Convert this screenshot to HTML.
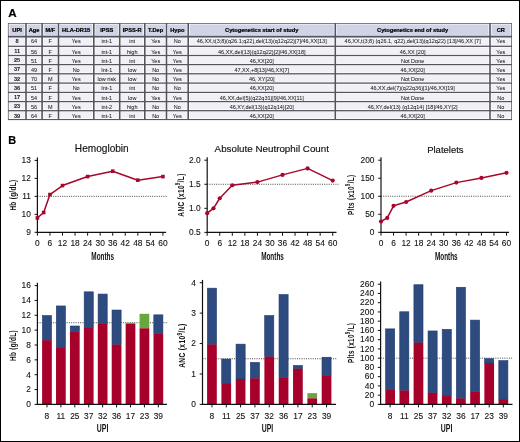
<!DOCTYPE html>
<html><head><meta charset="utf-8"><style>
html,body{margin:0;padding:0;background:#fff;}
body{width:520px;height:442px;overflow:hidden;}
.frame{position:absolute;left:0;top:0;width:518px;height:440px;border:1px solid #000;}
svg{position:absolute;left:0;top:0;font-family:"Liberation Sans", sans-serif;will-change:transform;}

</style></head><body>
<div class="frame"></div>
<svg width="520" height="442" viewBox="0 0 520 442">
<rect x="7.90" y="23.00" width="504.10" height="97.10" fill="#55555d"/>
<rect x="8.65" y="23.75" width="16.55" height="11.90" fill="#ffffff"/>
<rect x="9.35" y="24.45" width="15.15" height="10.50" fill="#d0d2e6"/>
<rect x="26.80" y="23.75" width="14.50" height="11.90" fill="#ffffff"/>
<rect x="27.50" y="24.45" width="13.10" height="10.50" fill="#d0d2e6"/>
<rect x="42.90" y="23.75" width="14.80" height="11.90" fill="#ffffff"/>
<rect x="43.60" y="24.45" width="13.40" height="10.50" fill="#d0d2e6"/>
<rect x="59.30" y="23.75" width="33.70" height="11.90" fill="#ffffff"/>
<rect x="60.00" y="24.45" width="32.30" height="10.50" fill="#d0d2e6"/>
<rect x="94.60" y="23.75" width="24.30" height="11.90" fill="#ffffff"/>
<rect x="95.30" y="24.45" width="22.90" height="10.50" fill="#d0d2e6"/>
<rect x="120.50" y="23.75" width="23.50" height="11.90" fill="#ffffff"/>
<rect x="121.20" y="24.45" width="22.10" height="10.50" fill="#d0d2e6"/>
<rect x="145.60" y="23.75" width="20.10" height="11.90" fill="#ffffff"/>
<rect x="146.30" y="24.45" width="18.70" height="10.50" fill="#d0d2e6"/>
<rect x="167.30" y="23.75" width="20.10" height="11.90" fill="#ffffff"/>
<rect x="168.00" y="24.45" width="18.70" height="10.50" fill="#d0d2e6"/>
<rect x="189.00" y="23.75" width="145.50" height="11.90" fill="#ffffff"/>
<rect x="189.70" y="24.45" width="144.10" height="10.50" fill="#d0d2e6"/>
<rect x="336.10" y="23.75" width="153.10" height="11.90" fill="#ffffff"/>
<rect x="336.80" y="24.45" width="151.70" height="10.50" fill="#d0d2e6"/>
<rect x="490.80" y="23.75" width="20.45" height="11.90" fill="#ffffff"/>
<rect x="491.50" y="24.45" width="19.05" height="10.50" fill="#d0d2e6"/>
<rect x="8.65" y="37.55" width="16.55" height="8.10" fill="#ffffff"/>
<rect x="9.35" y="38.25" width="15.15" height="6.70" fill="#f0f0f6"/>
<rect x="26.80" y="37.55" width="14.50" height="8.10" fill="#ffffff"/>
<rect x="27.50" y="38.25" width="13.10" height="6.70" fill="#f0f0f6"/>
<rect x="42.90" y="37.55" width="14.80" height="8.10" fill="#ffffff"/>
<rect x="43.60" y="38.25" width="13.40" height="6.70" fill="#f0f0f6"/>
<rect x="59.30" y="37.55" width="33.70" height="8.10" fill="#ffffff"/>
<rect x="60.00" y="38.25" width="32.30" height="6.70" fill="#f0f0f6"/>
<rect x="94.60" y="37.55" width="24.30" height="8.10" fill="#ffffff"/>
<rect x="95.30" y="38.25" width="22.90" height="6.70" fill="#f0f0f6"/>
<rect x="120.50" y="37.55" width="23.50" height="8.10" fill="#ffffff"/>
<rect x="121.20" y="38.25" width="22.10" height="6.70" fill="#f0f0f6"/>
<rect x="145.60" y="37.55" width="20.10" height="8.10" fill="#ffffff"/>
<rect x="146.30" y="38.25" width="18.70" height="6.70" fill="#f0f0f6"/>
<rect x="167.30" y="37.55" width="20.10" height="8.10" fill="#ffffff"/>
<rect x="168.00" y="38.25" width="18.70" height="6.70" fill="#f0f0f6"/>
<rect x="189.00" y="37.55" width="145.50" height="8.10" fill="#ffffff"/>
<rect x="189.70" y="38.25" width="144.10" height="6.70" fill="#f0f0f6"/>
<rect x="336.10" y="37.55" width="153.10" height="8.10" fill="#ffffff"/>
<rect x="336.80" y="38.25" width="151.70" height="6.70" fill="#f0f0f6"/>
<rect x="490.80" y="37.55" width="20.45" height="8.10" fill="#ffffff"/>
<rect x="491.50" y="38.25" width="19.05" height="6.70" fill="#f0f0f6"/>
<rect x="8.65" y="46.95" width="16.55" height="7.90" fill="#ffffff"/>
<rect x="9.35" y="47.65" width="15.15" height="6.50" fill="#f0f0f6"/>
<rect x="26.80" y="46.95" width="14.50" height="7.90" fill="#ffffff"/>
<rect x="27.50" y="47.65" width="13.10" height="6.50" fill="#f0f0f6"/>
<rect x="42.90" y="46.95" width="14.80" height="7.90" fill="#ffffff"/>
<rect x="43.60" y="47.65" width="13.40" height="6.50" fill="#f0f0f6"/>
<rect x="59.30" y="46.95" width="33.70" height="7.90" fill="#ffffff"/>
<rect x="60.00" y="47.65" width="32.30" height="6.50" fill="#f0f0f6"/>
<rect x="94.60" y="46.95" width="24.30" height="7.90" fill="#ffffff"/>
<rect x="95.30" y="47.65" width="22.90" height="6.50" fill="#f0f0f6"/>
<rect x="120.50" y="46.95" width="23.50" height="7.90" fill="#ffffff"/>
<rect x="121.20" y="47.65" width="22.10" height="6.50" fill="#f0f0f6"/>
<rect x="145.60" y="46.95" width="20.10" height="7.90" fill="#ffffff"/>
<rect x="146.30" y="47.65" width="18.70" height="6.50" fill="#f0f0f6"/>
<rect x="167.30" y="46.95" width="20.10" height="7.90" fill="#ffffff"/>
<rect x="168.00" y="47.65" width="18.70" height="6.50" fill="#f0f0f6"/>
<rect x="189.00" y="46.95" width="145.50" height="7.90" fill="#ffffff"/>
<rect x="189.70" y="47.65" width="144.10" height="6.50" fill="#f0f0f6"/>
<rect x="336.10" y="46.95" width="153.10" height="7.90" fill="#ffffff"/>
<rect x="336.80" y="47.65" width="151.70" height="6.50" fill="#f0f0f6"/>
<rect x="490.80" y="46.95" width="20.45" height="7.90" fill="#ffffff"/>
<rect x="491.50" y="47.65" width="19.05" height="6.50" fill="#f0f0f6"/>
<rect x="8.65" y="56.15" width="16.55" height="7.80" fill="#ffffff"/>
<rect x="9.35" y="56.85" width="15.15" height="6.40" fill="#f0f0f6"/>
<rect x="26.80" y="56.15" width="14.50" height="7.80" fill="#ffffff"/>
<rect x="27.50" y="56.85" width="13.10" height="6.40" fill="#f0f0f6"/>
<rect x="42.90" y="56.15" width="14.80" height="7.80" fill="#ffffff"/>
<rect x="43.60" y="56.85" width="13.40" height="6.40" fill="#f0f0f6"/>
<rect x="59.30" y="56.15" width="33.70" height="7.80" fill="#ffffff"/>
<rect x="60.00" y="56.85" width="32.30" height="6.40" fill="#f0f0f6"/>
<rect x="94.60" y="56.15" width="24.30" height="7.80" fill="#ffffff"/>
<rect x="95.30" y="56.85" width="22.90" height="6.40" fill="#f0f0f6"/>
<rect x="120.50" y="56.15" width="23.50" height="7.80" fill="#ffffff"/>
<rect x="121.20" y="56.85" width="22.10" height="6.40" fill="#f0f0f6"/>
<rect x="145.60" y="56.15" width="20.10" height="7.80" fill="#ffffff"/>
<rect x="146.30" y="56.85" width="18.70" height="6.40" fill="#f0f0f6"/>
<rect x="167.30" y="56.15" width="20.10" height="7.80" fill="#ffffff"/>
<rect x="168.00" y="56.85" width="18.70" height="6.40" fill="#f0f0f6"/>
<rect x="189.00" y="56.15" width="145.50" height="7.80" fill="#ffffff"/>
<rect x="189.70" y="56.85" width="144.10" height="6.40" fill="#f0f0f6"/>
<rect x="336.10" y="56.15" width="153.10" height="7.80" fill="#ffffff"/>
<rect x="336.80" y="56.85" width="151.70" height="6.40" fill="#f0f0f6"/>
<rect x="490.80" y="56.15" width="20.45" height="7.80" fill="#ffffff"/>
<rect x="491.50" y="56.85" width="19.05" height="6.40" fill="#f0f0f6"/>
<rect x="8.65" y="65.25" width="16.55" height="7.90" fill="#ffffff"/>
<rect x="9.35" y="65.95" width="15.15" height="6.50" fill="#f0f0f6"/>
<rect x="26.80" y="65.25" width="14.50" height="7.90" fill="#ffffff"/>
<rect x="27.50" y="65.95" width="13.10" height="6.50" fill="#f0f0f6"/>
<rect x="42.90" y="65.25" width="14.80" height="7.90" fill="#ffffff"/>
<rect x="43.60" y="65.95" width="13.40" height="6.50" fill="#f0f0f6"/>
<rect x="59.30" y="65.25" width="33.70" height="7.90" fill="#ffffff"/>
<rect x="60.00" y="65.95" width="32.30" height="6.50" fill="#f0f0f6"/>
<rect x="94.60" y="65.25" width="24.30" height="7.90" fill="#ffffff"/>
<rect x="95.30" y="65.95" width="22.90" height="6.50" fill="#f0f0f6"/>
<rect x="120.50" y="65.25" width="23.50" height="7.90" fill="#ffffff"/>
<rect x="121.20" y="65.95" width="22.10" height="6.50" fill="#f0f0f6"/>
<rect x="145.60" y="65.25" width="20.10" height="7.90" fill="#ffffff"/>
<rect x="146.30" y="65.95" width="18.70" height="6.50" fill="#f0f0f6"/>
<rect x="167.30" y="65.25" width="20.10" height="7.90" fill="#ffffff"/>
<rect x="168.00" y="65.95" width="18.70" height="6.50" fill="#f0f0f6"/>
<rect x="189.00" y="65.25" width="145.50" height="7.90" fill="#ffffff"/>
<rect x="189.70" y="65.95" width="144.10" height="6.50" fill="#f0f0f6"/>
<rect x="336.10" y="65.25" width="153.10" height="7.90" fill="#ffffff"/>
<rect x="336.80" y="65.95" width="151.70" height="6.50" fill="#f0f0f6"/>
<rect x="490.80" y="65.25" width="20.45" height="7.90" fill="#ffffff"/>
<rect x="491.50" y="65.95" width="19.05" height="6.50" fill="#f0f0f6"/>
<rect x="8.65" y="74.45" width="16.55" height="8.00" fill="#ffffff"/>
<rect x="9.35" y="75.15" width="15.15" height="6.60" fill="#f0f0f6"/>
<rect x="26.80" y="74.45" width="14.50" height="8.00" fill="#ffffff"/>
<rect x="27.50" y="75.15" width="13.10" height="6.60" fill="#f0f0f6"/>
<rect x="42.90" y="74.45" width="14.80" height="8.00" fill="#ffffff"/>
<rect x="43.60" y="75.15" width="13.40" height="6.60" fill="#f0f0f6"/>
<rect x="59.30" y="74.45" width="33.70" height="8.00" fill="#ffffff"/>
<rect x="60.00" y="75.15" width="32.30" height="6.60" fill="#f0f0f6"/>
<rect x="94.60" y="74.45" width="24.30" height="8.00" fill="#ffffff"/>
<rect x="95.30" y="75.15" width="22.90" height="6.60" fill="#f0f0f6"/>
<rect x="120.50" y="74.45" width="23.50" height="8.00" fill="#ffffff"/>
<rect x="121.20" y="75.15" width="22.10" height="6.60" fill="#f0f0f6"/>
<rect x="145.60" y="74.45" width="20.10" height="8.00" fill="#ffffff"/>
<rect x="146.30" y="75.15" width="18.70" height="6.60" fill="#f0f0f6"/>
<rect x="167.30" y="74.45" width="20.10" height="8.00" fill="#ffffff"/>
<rect x="168.00" y="75.15" width="18.70" height="6.60" fill="#f0f0f6"/>
<rect x="189.00" y="74.45" width="145.50" height="8.00" fill="#ffffff"/>
<rect x="189.70" y="75.15" width="144.10" height="6.60" fill="#f0f0f6"/>
<rect x="336.10" y="74.45" width="153.10" height="8.00" fill="#ffffff"/>
<rect x="336.80" y="75.15" width="151.70" height="6.60" fill="#f0f0f6"/>
<rect x="490.80" y="74.45" width="20.45" height="8.00" fill="#ffffff"/>
<rect x="491.50" y="75.15" width="19.05" height="6.60" fill="#f0f0f6"/>
<rect x="8.65" y="83.75" width="16.55" height="8.00" fill="#ffffff"/>
<rect x="9.35" y="84.45" width="15.15" height="6.60" fill="#f0f0f6"/>
<rect x="26.80" y="83.75" width="14.50" height="8.00" fill="#ffffff"/>
<rect x="27.50" y="84.45" width="13.10" height="6.60" fill="#f0f0f6"/>
<rect x="42.90" y="83.75" width="14.80" height="8.00" fill="#ffffff"/>
<rect x="43.60" y="84.45" width="13.40" height="6.60" fill="#f0f0f6"/>
<rect x="59.30" y="83.75" width="33.70" height="8.00" fill="#ffffff"/>
<rect x="60.00" y="84.45" width="32.30" height="6.60" fill="#f0f0f6"/>
<rect x="94.60" y="83.75" width="24.30" height="8.00" fill="#ffffff"/>
<rect x="95.30" y="84.45" width="22.90" height="6.60" fill="#f0f0f6"/>
<rect x="120.50" y="83.75" width="23.50" height="8.00" fill="#ffffff"/>
<rect x="121.20" y="84.45" width="22.10" height="6.60" fill="#f0f0f6"/>
<rect x="145.60" y="83.75" width="20.10" height="8.00" fill="#ffffff"/>
<rect x="146.30" y="84.45" width="18.70" height="6.60" fill="#f0f0f6"/>
<rect x="167.30" y="83.75" width="20.10" height="8.00" fill="#ffffff"/>
<rect x="168.00" y="84.45" width="18.70" height="6.60" fill="#f0f0f6"/>
<rect x="189.00" y="83.75" width="145.50" height="8.00" fill="#ffffff"/>
<rect x="189.70" y="84.45" width="144.10" height="6.60" fill="#f0f0f6"/>
<rect x="336.10" y="83.75" width="153.10" height="8.00" fill="#ffffff"/>
<rect x="336.80" y="84.45" width="151.70" height="6.60" fill="#f0f0f6"/>
<rect x="490.80" y="83.75" width="20.45" height="8.00" fill="#ffffff"/>
<rect x="491.50" y="84.45" width="19.05" height="6.60" fill="#f0f0f6"/>
<rect x="8.65" y="93.05" width="16.55" height="7.90" fill="#ffffff"/>
<rect x="9.35" y="93.75" width="15.15" height="6.50" fill="#f0f0f6"/>
<rect x="26.80" y="93.05" width="14.50" height="7.90" fill="#ffffff"/>
<rect x="27.50" y="93.75" width="13.10" height="6.50" fill="#f0f0f6"/>
<rect x="42.90" y="93.05" width="14.80" height="7.90" fill="#ffffff"/>
<rect x="43.60" y="93.75" width="13.40" height="6.50" fill="#f0f0f6"/>
<rect x="59.30" y="93.05" width="33.70" height="7.90" fill="#ffffff"/>
<rect x="60.00" y="93.75" width="32.30" height="6.50" fill="#f0f0f6"/>
<rect x="94.60" y="93.05" width="24.30" height="7.90" fill="#ffffff"/>
<rect x="95.30" y="93.75" width="22.90" height="6.50" fill="#f0f0f6"/>
<rect x="120.50" y="93.05" width="23.50" height="7.90" fill="#ffffff"/>
<rect x="121.20" y="93.75" width="22.10" height="6.50" fill="#f0f0f6"/>
<rect x="145.60" y="93.05" width="20.10" height="7.90" fill="#ffffff"/>
<rect x="146.30" y="93.75" width="18.70" height="6.50" fill="#f0f0f6"/>
<rect x="167.30" y="93.05" width="20.10" height="7.90" fill="#ffffff"/>
<rect x="168.00" y="93.75" width="18.70" height="6.50" fill="#f0f0f6"/>
<rect x="189.00" y="93.05" width="145.50" height="7.90" fill="#ffffff"/>
<rect x="189.70" y="93.75" width="144.10" height="6.50" fill="#f0f0f6"/>
<rect x="336.10" y="93.05" width="153.10" height="7.90" fill="#ffffff"/>
<rect x="336.80" y="93.75" width="151.70" height="6.50" fill="#f0f0f6"/>
<rect x="490.80" y="93.05" width="20.45" height="7.90" fill="#ffffff"/>
<rect x="491.50" y="93.75" width="19.05" height="6.50" fill="#f0f0f6"/>
<rect x="8.65" y="102.25" width="16.55" height="7.80" fill="#ffffff"/>
<rect x="9.35" y="102.95" width="15.15" height="6.40" fill="#f0f0f6"/>
<rect x="26.80" y="102.25" width="14.50" height="7.80" fill="#ffffff"/>
<rect x="27.50" y="102.95" width="13.10" height="6.40" fill="#f0f0f6"/>
<rect x="42.90" y="102.25" width="14.80" height="7.80" fill="#ffffff"/>
<rect x="43.60" y="102.95" width="13.40" height="6.40" fill="#f0f0f6"/>
<rect x="59.30" y="102.25" width="33.70" height="7.80" fill="#ffffff"/>
<rect x="60.00" y="102.95" width="32.30" height="6.40" fill="#f0f0f6"/>
<rect x="94.60" y="102.25" width="24.30" height="7.80" fill="#ffffff"/>
<rect x="95.30" y="102.95" width="22.90" height="6.40" fill="#f0f0f6"/>
<rect x="120.50" y="102.25" width="23.50" height="7.80" fill="#ffffff"/>
<rect x="121.20" y="102.95" width="22.10" height="6.40" fill="#f0f0f6"/>
<rect x="145.60" y="102.25" width="20.10" height="7.80" fill="#ffffff"/>
<rect x="146.30" y="102.95" width="18.70" height="6.40" fill="#f0f0f6"/>
<rect x="167.30" y="102.25" width="20.10" height="7.80" fill="#ffffff"/>
<rect x="168.00" y="102.95" width="18.70" height="6.40" fill="#f0f0f6"/>
<rect x="189.00" y="102.25" width="145.50" height="7.80" fill="#ffffff"/>
<rect x="189.70" y="102.95" width="144.10" height="6.40" fill="#f0f0f6"/>
<rect x="336.10" y="102.25" width="153.10" height="7.80" fill="#ffffff"/>
<rect x="336.80" y="102.95" width="151.70" height="6.40" fill="#f0f0f6"/>
<rect x="490.80" y="102.25" width="20.45" height="7.80" fill="#ffffff"/>
<rect x="491.50" y="102.95" width="19.05" height="6.40" fill="#f0f0f6"/>
<rect x="8.65" y="111.35" width="16.55" height="7.65" fill="#ffffff"/>
<rect x="9.35" y="112.05" width="15.15" height="6.25" fill="#f0f0f6"/>
<rect x="26.80" y="111.35" width="14.50" height="7.65" fill="#ffffff"/>
<rect x="27.50" y="112.05" width="13.10" height="6.25" fill="#f0f0f6"/>
<rect x="42.90" y="111.35" width="14.80" height="7.65" fill="#ffffff"/>
<rect x="43.60" y="112.05" width="13.40" height="6.25" fill="#f0f0f6"/>
<rect x="59.30" y="111.35" width="33.70" height="7.65" fill="#ffffff"/>
<rect x="60.00" y="112.05" width="32.30" height="6.25" fill="#f0f0f6"/>
<rect x="94.60" y="111.35" width="24.30" height="7.65" fill="#ffffff"/>
<rect x="95.30" y="112.05" width="22.90" height="6.25" fill="#f0f0f6"/>
<rect x="120.50" y="111.35" width="23.50" height="7.65" fill="#ffffff"/>
<rect x="121.20" y="112.05" width="22.10" height="6.25" fill="#f0f0f6"/>
<rect x="145.60" y="111.35" width="20.10" height="7.65" fill="#ffffff"/>
<rect x="146.30" y="112.05" width="18.70" height="6.25" fill="#f0f0f6"/>
<rect x="167.30" y="111.35" width="20.10" height="7.65" fill="#ffffff"/>
<rect x="168.00" y="112.05" width="18.70" height="6.25" fill="#f0f0f6"/>
<rect x="189.00" y="111.35" width="145.50" height="7.65" fill="#ffffff"/>
<rect x="189.70" y="112.05" width="144.10" height="6.25" fill="#f0f0f6"/>
<rect x="336.10" y="111.35" width="153.10" height="7.65" fill="#ffffff"/>
<rect x="336.80" y="112.05" width="151.70" height="6.25" fill="#f0f0f6"/>
<rect x="490.80" y="111.35" width="20.45" height="7.65" fill="#ffffff"/>
<rect x="491.50" y="112.05" width="19.05" height="6.25" fill="#f0f0f6"/>
<text x="17.10" y="32.00" font-size="5.7" text-anchor="middle" font-weight="bold" fill="#000" stroke="#000" stroke-width="0.22" >UPI</text>
<text x="34.05" y="32.00" font-size="5.7" text-anchor="middle" font-weight="bold" fill="#000" stroke="#000" stroke-width="0.22" >Age</text>
<text x="50.30" y="32.00" font-size="5.7" text-anchor="middle" font-weight="bold" fill="#000" stroke="#000" stroke-width="0.22" >M/F</text>
<text x="76.15" y="32.00" font-size="5.7" text-anchor="middle" font-weight="bold" fill="#000" stroke="#000" stroke-width="0.22" >HLA-DR15</text>
<text x="106.75" y="32.00" font-size="5.7" text-anchor="middle" font-weight="bold" fill="#000" stroke="#000" stroke-width="0.22" >IPSS</text>
<text x="132.25" y="32.00" font-size="5.7" text-anchor="middle" font-weight="bold" fill="#000" stroke="#000" stroke-width="0.22" >IPSS-R</text>
<text x="155.65" y="32.00" font-size="5.7" text-anchor="middle" font-weight="bold" fill="#000" stroke="#000" stroke-width="0.22" >T.Dep</text>
<text x="177.35" y="32.00" font-size="5.7" text-anchor="middle" font-weight="bold" fill="#000" stroke="#000" stroke-width="0.22" >Hypo</text>
<text x="261.75" y="32.00" font-size="5.7" text-anchor="middle" font-weight="bold" fill="#000" stroke="#000" stroke-width="0.22" >Cytogenetics start of study</text>
<text x="412.65" y="32.00" font-size="5.7" text-anchor="middle" font-weight="bold" fill="#000" stroke="#000" stroke-width="0.22" >Cytogenetics end of study</text>
<text x="500.85" y="32.00" font-size="5.7" text-anchor="middle" font-weight="bold" fill="#000" stroke="#000" stroke-width="0.22" >CR</text>
<text x="17.10" y="43.40" font-size="5.6" text-anchor="middle" font-weight="bold" fill="#1a1a1a" stroke="#1a1a1a" stroke-width="0.04" >8</text>
<text x="34.05" y="43.40" font-size="5.5" text-anchor="middle" font-weight="normal" fill="#1a1a1a" stroke="#1a1a1a" stroke-width="0.04" >64</text>
<text x="50.30" y="43.40" font-size="5.5" text-anchor="middle" font-weight="normal" fill="#1a1a1a" stroke="#1a1a1a" stroke-width="0.04" >F</text>
<text x="76.15" y="43.40" font-size="5.5" text-anchor="middle" font-weight="normal" fill="#1a1a1a" stroke="#1a1a1a" stroke-width="0.04" >Yes</text>
<text x="106.75" y="43.40" font-size="5.5" text-anchor="middle" font-weight="normal" fill="#1a1a1a" stroke="#1a1a1a" stroke-width="0.04" >int-1</text>
<text x="132.25" y="43.40" font-size="5.5" text-anchor="middle" font-weight="normal" fill="#1a1a1a" stroke="#1a1a1a" stroke-width="0.04" >int</text>
<text x="155.65" y="43.40" font-size="5.5" text-anchor="middle" font-weight="normal" fill="#1a1a1a" stroke="#1a1a1a" stroke-width="0.04" >Yes</text>
<text x="177.35" y="43.40" font-size="5.5" text-anchor="middle" font-weight="normal" fill="#1a1a1a" stroke="#1a1a1a" stroke-width="0.04" >No</text>
<text x="261.75" y="43.40" font-size="5.5" text-anchor="middle" font-weight="normal" fill="#1a1a1a" stroke="#1a1a1a" stroke-width="0.04" >46,XX,t(3;8)(q26.1;q22),del(13)(q12q22)[7]/46,XX[13]</text>
<text x="412.65" y="43.40" font-size="5.5" text-anchor="middle" font-weight="normal" fill="#1a1a1a" stroke="#1a1a1a" stroke-width="0.04" >46,XX,t(3;8) (q26.1, q22),del(13)(q12q22) [13]/46,XX [7]</text>
<text x="500.85" y="43.40" font-size="5.5" text-anchor="middle" font-weight="normal" fill="#1a1a1a" stroke="#1a1a1a" stroke-width="0.04" >Yes</text>
<text x="17.10" y="53.10" font-size="5.6" text-anchor="middle" font-weight="bold" fill="#1a1a1a" stroke="#1a1a1a" stroke-width="0.04" >11</text>
<text x="34.05" y="53.60" font-size="5.5" text-anchor="middle" font-weight="normal" fill="#1a1a1a" stroke="#1a1a1a" stroke-width="0.04" >56</text>
<text x="50.30" y="53.60" font-size="5.5" text-anchor="middle" font-weight="normal" fill="#1a1a1a" stroke="#1a1a1a" stroke-width="0.04" >F</text>
<text x="76.15" y="53.60" font-size="5.5" text-anchor="middle" font-weight="normal" fill="#1a1a1a" stroke="#1a1a1a" stroke-width="0.04" >Yes</text>
<text x="106.75" y="53.60" font-size="5.5" text-anchor="middle" font-weight="normal" fill="#1a1a1a" stroke="#1a1a1a" stroke-width="0.04" >int-1</text>
<text x="132.25" y="53.60" font-size="5.5" text-anchor="middle" font-weight="normal" fill="#1a1a1a" stroke="#1a1a1a" stroke-width="0.04" >high</text>
<text x="155.65" y="53.60" font-size="5.5" text-anchor="middle" font-weight="normal" fill="#1a1a1a" stroke="#1a1a1a" stroke-width="0.04" >Yes</text>
<text x="177.35" y="53.60" font-size="5.5" text-anchor="middle" font-weight="normal" fill="#1a1a1a" stroke="#1a1a1a" stroke-width="0.04" >Yes</text>
<text x="261.75" y="53.60" font-size="5.5" text-anchor="middle" font-weight="normal" fill="#1a1a1a" stroke="#1a1a1a" stroke-width="0.04" >46,XX,del(13)(q12q22)[2]/46,XX[18]</text>
<text x="412.65" y="53.60" font-size="5.5" text-anchor="middle" font-weight="normal" fill="#1a1a1a" stroke="#1a1a1a" stroke-width="0.04" >46,XX [20]</text>
<text x="500.85" y="53.60" font-size="5.5" text-anchor="middle" font-weight="normal" fill="#1a1a1a" stroke="#1a1a1a" stroke-width="0.04" >Yes</text>
<text x="17.10" y="62.30" font-size="5.6" text-anchor="middle" font-weight="bold" fill="#1a1a1a" stroke="#1a1a1a" stroke-width="0.04" >25</text>
<text x="34.05" y="62.80" font-size="5.5" text-anchor="middle" font-weight="normal" fill="#1a1a1a" stroke="#1a1a1a" stroke-width="0.04" >51</text>
<text x="50.30" y="62.80" font-size="5.5" text-anchor="middle" font-weight="normal" fill="#1a1a1a" stroke="#1a1a1a" stroke-width="0.04" >F</text>
<text x="76.15" y="62.80" font-size="5.5" text-anchor="middle" font-weight="normal" fill="#1a1a1a" stroke="#1a1a1a" stroke-width="0.04" >Yes</text>
<text x="106.75" y="62.80" font-size="5.5" text-anchor="middle" font-weight="normal" fill="#1a1a1a" stroke="#1a1a1a" stroke-width="0.04" >int-1</text>
<text x="132.25" y="62.80" font-size="5.5" text-anchor="middle" font-weight="normal" fill="#1a1a1a" stroke="#1a1a1a" stroke-width="0.04" >int</text>
<text x="155.65" y="62.80" font-size="5.5" text-anchor="middle" font-weight="normal" fill="#1a1a1a" stroke="#1a1a1a" stroke-width="0.04" >Yes</text>
<text x="177.35" y="62.80" font-size="5.5" text-anchor="middle" font-weight="normal" fill="#1a1a1a" stroke="#1a1a1a" stroke-width="0.04" >Yes</text>
<text x="261.75" y="62.80" font-size="5.5" text-anchor="middle" font-weight="normal" fill="#1a1a1a" stroke="#1a1a1a" stroke-width="0.04" >46,XX[20]</text>
<text x="412.65" y="62.80" font-size="5.5" text-anchor="middle" font-weight="normal" fill="#1a1a1a" stroke="#1a1a1a" stroke-width="0.04" >Not Done</text>
<text x="500.85" y="62.80" font-size="5.5" text-anchor="middle" font-weight="normal" fill="#1a1a1a" stroke="#1a1a1a" stroke-width="0.04" >Yes</text>
<text x="17.10" y="71.40" font-size="5.6" text-anchor="middle" font-weight="bold" fill="#1a1a1a" stroke="#1a1a1a" stroke-width="0.04" >37</text>
<text x="34.05" y="71.90" font-size="5.5" text-anchor="middle" font-weight="normal" fill="#1a1a1a" stroke="#1a1a1a" stroke-width="0.04" >49</text>
<text x="50.30" y="71.90" font-size="5.5" text-anchor="middle" font-weight="normal" fill="#1a1a1a" stroke="#1a1a1a" stroke-width="0.04" >F</text>
<text x="76.15" y="71.90" font-size="5.5" text-anchor="middle" font-weight="normal" fill="#1a1a1a" stroke="#1a1a1a" stroke-width="0.04" >No</text>
<text x="106.75" y="71.90" font-size="5.5" text-anchor="middle" font-weight="normal" fill="#1a1a1a" stroke="#1a1a1a" stroke-width="0.04" >Int-1</text>
<text x="132.25" y="71.90" font-size="5.5" text-anchor="middle" font-weight="normal" fill="#1a1a1a" stroke="#1a1a1a" stroke-width="0.04" >low</text>
<text x="155.65" y="71.90" font-size="5.5" text-anchor="middle" font-weight="normal" fill="#1a1a1a" stroke="#1a1a1a" stroke-width="0.04" >No</text>
<text x="177.35" y="71.90" font-size="5.5" text-anchor="middle" font-weight="normal" fill="#1a1a1a" stroke="#1a1a1a" stroke-width="0.04" >Yes</text>
<text x="261.75" y="71.90" font-size="5.5" text-anchor="middle" font-weight="normal" fill="#1a1a1a" stroke="#1a1a1a" stroke-width="0.04" >47,XX,+8[13]/46,XX[7]</text>
<text x="412.65" y="71.90" font-size="5.5" text-anchor="middle" font-weight="normal" fill="#1a1a1a" stroke="#1a1a1a" stroke-width="0.04" >46,XX[20]</text>
<text x="500.85" y="71.90" font-size="5.5" text-anchor="middle" font-weight="normal" fill="#1a1a1a" stroke="#1a1a1a" stroke-width="0.04" >Yes</text>
<text x="17.10" y="80.60" font-size="5.6" text-anchor="middle" font-weight="bold" fill="#1a1a1a" stroke="#1a1a1a" stroke-width="0.04" >32</text>
<text x="34.05" y="81.10" font-size="5.5" text-anchor="middle" font-weight="normal" fill="#1a1a1a" stroke="#1a1a1a" stroke-width="0.04" >70</text>
<text x="50.30" y="81.10" font-size="5.5" text-anchor="middle" font-weight="normal" fill="#1a1a1a" stroke="#1a1a1a" stroke-width="0.04" >M</text>
<text x="76.15" y="81.10" font-size="5.5" text-anchor="middle" font-weight="normal" fill="#1a1a1a" stroke="#1a1a1a" stroke-width="0.04" >Yes</text>
<text x="106.75" y="81.10" font-size="5.5" text-anchor="middle" font-weight="normal" fill="#1a1a1a" stroke="#1a1a1a" stroke-width="0.04" >low risk</text>
<text x="132.25" y="81.10" font-size="5.5" text-anchor="middle" font-weight="normal" fill="#1a1a1a" stroke="#1a1a1a" stroke-width="0.04" >low</text>
<text x="155.65" y="81.10" font-size="5.5" text-anchor="middle" font-weight="normal" fill="#1a1a1a" stroke="#1a1a1a" stroke-width="0.04" >No</text>
<text x="177.35" y="81.10" font-size="5.5" text-anchor="middle" font-weight="normal" fill="#1a1a1a" stroke="#1a1a1a" stroke-width="0.04" >Yes</text>
<text x="261.75" y="81.10" font-size="5.5" text-anchor="middle" font-weight="normal" fill="#1a1a1a" stroke="#1a1a1a" stroke-width="0.04" >46, XY[20]</text>
<text x="412.65" y="81.10" font-size="5.5" text-anchor="middle" font-weight="normal" fill="#1a1a1a" stroke="#1a1a1a" stroke-width="0.04" >Not Done</text>
<text x="500.85" y="81.10" font-size="5.5" text-anchor="middle" font-weight="normal" fill="#1a1a1a" stroke="#1a1a1a" stroke-width="0.04" >Yes</text>
<text x="17.10" y="89.90" font-size="5.6" text-anchor="middle" font-weight="bold" fill="#1a1a1a" stroke="#1a1a1a" stroke-width="0.04" >36</text>
<text x="34.05" y="90.40" font-size="5.5" text-anchor="middle" font-weight="normal" fill="#1a1a1a" stroke="#1a1a1a" stroke-width="0.04" >51</text>
<text x="50.30" y="90.40" font-size="5.5" text-anchor="middle" font-weight="normal" fill="#1a1a1a" stroke="#1a1a1a" stroke-width="0.04" >F</text>
<text x="76.15" y="90.40" font-size="5.5" text-anchor="middle" font-weight="normal" fill="#1a1a1a" stroke="#1a1a1a" stroke-width="0.04" >No</text>
<text x="106.75" y="90.40" font-size="5.5" text-anchor="middle" font-weight="normal" fill="#1a1a1a" stroke="#1a1a1a" stroke-width="0.04" >Int-1</text>
<text x="132.25" y="90.40" font-size="5.5" text-anchor="middle" font-weight="normal" fill="#1a1a1a" stroke="#1a1a1a" stroke-width="0.04" >int</text>
<text x="155.65" y="90.40" font-size="5.5" text-anchor="middle" font-weight="normal" fill="#1a1a1a" stroke="#1a1a1a" stroke-width="0.04" >No</text>
<text x="177.35" y="90.40" font-size="5.5" text-anchor="middle" font-weight="normal" fill="#1a1a1a" stroke="#1a1a1a" stroke-width="0.04" >No</text>
<text x="261.75" y="90.40" font-size="5.5" text-anchor="middle" font-weight="normal" fill="#1a1a1a" stroke="#1a1a1a" stroke-width="0.04" >46,XX[20]</text>
<text x="412.65" y="90.40" font-size="5.5" text-anchor="middle" font-weight="normal" fill="#1a1a1a" stroke="#1a1a1a" stroke-width="0.04" >46,XX,del(7)(q22q36)[1]/46,XX[19]</text>
<text x="500.85" y="90.40" font-size="5.5" text-anchor="middle" font-weight="normal" fill="#1a1a1a" stroke="#1a1a1a" stroke-width="0.04" >Yes</text>
<text x="17.10" y="99.20" font-size="5.6" text-anchor="middle" font-weight="bold" fill="#1a1a1a" stroke="#1a1a1a" stroke-width="0.04" >17</text>
<text x="34.05" y="99.70" font-size="5.5" text-anchor="middle" font-weight="normal" fill="#1a1a1a" stroke="#1a1a1a" stroke-width="0.04" >54</text>
<text x="50.30" y="99.70" font-size="5.5" text-anchor="middle" font-weight="normal" fill="#1a1a1a" stroke="#1a1a1a" stroke-width="0.04" >F</text>
<text x="76.15" y="99.70" font-size="5.5" text-anchor="middle" font-weight="normal" fill="#1a1a1a" stroke="#1a1a1a" stroke-width="0.04" >Yes</text>
<text x="106.75" y="99.70" font-size="5.5" text-anchor="middle" font-weight="normal" fill="#1a1a1a" stroke="#1a1a1a" stroke-width="0.04" >int-1</text>
<text x="132.25" y="99.70" font-size="5.5" text-anchor="middle" font-weight="normal" fill="#1a1a1a" stroke="#1a1a1a" stroke-width="0.04" >low</text>
<text x="155.65" y="99.70" font-size="5.5" text-anchor="middle" font-weight="normal" fill="#1a1a1a" stroke="#1a1a1a" stroke-width="0.04" >Yes</text>
<text x="177.35" y="99.70" font-size="5.5" text-anchor="middle" font-weight="normal" fill="#1a1a1a" stroke="#1a1a1a" stroke-width="0.04" >Yes</text>
<text x="261.75" y="99.70" font-size="5.5" text-anchor="middle" font-weight="normal" fill="#1a1a1a" stroke="#1a1a1a" stroke-width="0.04" >46,XX,del(5)(q22q31)[9]/46,XX[11]</text>
<text x="412.65" y="99.70" font-size="5.5" text-anchor="middle" font-weight="normal" fill="#1a1a1a" stroke="#1a1a1a" stroke-width="0.04" >Not Done</text>
<text x="500.85" y="99.70" font-size="5.5" text-anchor="middle" font-weight="normal" fill="#1a1a1a" stroke="#1a1a1a" stroke-width="0.04" >No</text>
<text x="17.10" y="108.40" font-size="5.6" text-anchor="middle" font-weight="bold" fill="#1a1a1a" stroke="#1a1a1a" stroke-width="0.04" >23</text>
<text x="34.05" y="108.90" font-size="5.5" text-anchor="middle" font-weight="normal" fill="#1a1a1a" stroke="#1a1a1a" stroke-width="0.04" >56</text>
<text x="50.30" y="108.90" font-size="5.5" text-anchor="middle" font-weight="normal" fill="#1a1a1a" stroke="#1a1a1a" stroke-width="0.04" >M</text>
<text x="76.15" y="108.90" font-size="5.5" text-anchor="middle" font-weight="normal" fill="#1a1a1a" stroke="#1a1a1a" stroke-width="0.04" >Yes</text>
<text x="106.75" y="108.90" font-size="5.5" text-anchor="middle" font-weight="normal" fill="#1a1a1a" stroke="#1a1a1a" stroke-width="0.04" >int-2</text>
<text x="132.25" y="108.90" font-size="5.5" text-anchor="middle" font-weight="normal" fill="#1a1a1a" stroke="#1a1a1a" stroke-width="0.04" >high</text>
<text x="155.65" y="108.90" font-size="5.5" text-anchor="middle" font-weight="normal" fill="#1a1a1a" stroke="#1a1a1a" stroke-width="0.04" >No</text>
<text x="177.35" y="108.90" font-size="5.5" text-anchor="middle" font-weight="normal" fill="#1a1a1a" stroke="#1a1a1a" stroke-width="0.04" >No</text>
<text x="261.75" y="108.90" font-size="5.5" text-anchor="middle" font-weight="normal" fill="#1a1a1a" stroke="#1a1a1a" stroke-width="0.04" >46,XY,del(13)(q12q14)[20]</text>
<text x="412.65" y="108.90" font-size="5.5" text-anchor="middle" font-weight="normal" fill="#1a1a1a" stroke="#1a1a1a" stroke-width="0.04" >46,XY,del(13) (q12q14) [18]/46,XY[2]</text>
<text x="500.85" y="108.90" font-size="5.5" text-anchor="middle" font-weight="normal" fill="#1a1a1a" stroke="#1a1a1a" stroke-width="0.04" >No</text>
<text x="17.10" y="117.50" font-size="5.6" text-anchor="middle" font-weight="bold" fill="#1a1a1a" stroke="#1a1a1a" stroke-width="0.04" >39</text>
<text x="34.05" y="118.00" font-size="5.5" text-anchor="middle" font-weight="normal" fill="#1a1a1a" stroke="#1a1a1a" stroke-width="0.04" >64</text>
<text x="50.30" y="118.00" font-size="5.5" text-anchor="middle" font-weight="normal" fill="#1a1a1a" stroke="#1a1a1a" stroke-width="0.04" >F</text>
<text x="76.15" y="118.00" font-size="5.5" text-anchor="middle" font-weight="normal" fill="#1a1a1a" stroke="#1a1a1a" stroke-width="0.04" >Yes</text>
<text x="106.75" y="118.00" font-size="5.5" text-anchor="middle" font-weight="normal" fill="#1a1a1a" stroke="#1a1a1a" stroke-width="0.04" >int-1</text>
<text x="132.25" y="118.00" font-size="5.5" text-anchor="middle" font-weight="normal" fill="#1a1a1a" stroke="#1a1a1a" stroke-width="0.04" >int</text>
<text x="155.65" y="118.00" font-size="5.5" text-anchor="middle" font-weight="normal" fill="#1a1a1a" stroke="#1a1a1a" stroke-width="0.04" >No</text>
<text x="177.35" y="118.00" font-size="5.5" text-anchor="middle" font-weight="normal" fill="#1a1a1a" stroke="#1a1a1a" stroke-width="0.04" >Yes</text>
<text x="261.75" y="118.00" font-size="5.5" text-anchor="middle" font-weight="normal" fill="#1a1a1a" stroke="#1a1a1a" stroke-width="0.04" >46,XX[20]</text>
<text x="412.65" y="118.00" font-size="5.5" text-anchor="middle" font-weight="normal" fill="#1a1a1a" stroke="#1a1a1a" stroke-width="0.04" >46,XX[20]</text>
<text x="500.85" y="118.00" font-size="5.5" text-anchor="middle" font-weight="normal" fill="#1a1a1a" stroke="#1a1a1a" stroke-width="0.04" >No</text>
<text x="8.20" y="17.30" font-size="11.6" text-anchor="start" font-weight="bold" fill="#000" stroke="#000" stroke-width="0.2" >A</text>
<text x="8.30" y="144.20" font-size="10.9" text-anchor="start" font-weight="bold" fill="#000" stroke="#000" stroke-width="0.2" >B</text>
<line x1="37.40" y1="196.35" x2="168.00" y2="196.35" stroke="#333" stroke-width="0.9" stroke-dasharray="1,1.25"/>
<line x1="37.40" y1="157.40" x2="37.40" y2="232.90" stroke="#111" stroke-width="1.2"/>
<line x1="36.80" y1="232.30" x2="166.10" y2="232.30" stroke="#111" stroke-width="1.2"/>
<line x1="34.60" y1="232.30" x2="37.40" y2="232.30" stroke="#111" stroke-width="1"/>
<text x="30.90" y="235.10" font-size="8.4" text-anchor="end" font-weight="normal" fill="#111" stroke="#111" stroke-width="0.1" >9</text>
<line x1="34.60" y1="214.33" x2="37.40" y2="214.33" stroke="#111" stroke-width="1"/>
<text x="30.90" y="217.13" font-size="8.4" text-anchor="end" font-weight="normal" fill="#111" stroke="#111" stroke-width="0.1" >10</text>
<line x1="34.60" y1="196.35" x2="37.40" y2="196.35" stroke="#111" stroke-width="1"/>
<text x="30.90" y="199.15" font-size="8.4" text-anchor="end" font-weight="normal" fill="#111" stroke="#111" stroke-width="0.1" >11</text>
<line x1="34.60" y1="178.38" x2="37.40" y2="178.38" stroke="#111" stroke-width="1"/>
<text x="30.90" y="181.18" font-size="8.4" text-anchor="end" font-weight="normal" fill="#111" stroke="#111" stroke-width="0.1" >12</text>
<line x1="34.60" y1="160.40" x2="37.40" y2="160.40" stroke="#111" stroke-width="1"/>
<text x="30.90" y="163.20" font-size="8.4" text-anchor="end" font-weight="normal" fill="#111" stroke="#111" stroke-width="0.1" >13</text>
<line x1="37.40" y1="232.30" x2="37.40" y2="235.70" stroke="#111" stroke-width="1"/>
<text x="37.40" y="245.90" font-size="8.4" text-anchor="middle" font-weight="normal" fill="#111" stroke="#111" stroke-width="0.1" >0</text>
<line x1="49.95" y1="232.30" x2="49.95" y2="235.70" stroke="#111" stroke-width="1"/>
<text x="49.95" y="245.90" font-size="8.4" text-anchor="middle" font-weight="normal" fill="#111" stroke="#111" stroke-width="0.1" >6</text>
<line x1="62.50" y1="232.30" x2="62.50" y2="235.70" stroke="#111" stroke-width="1"/>
<text x="62.50" y="245.90" font-size="8.4" text-anchor="middle" font-weight="normal" fill="#111" stroke="#111" stroke-width="0.1" >12</text>
<line x1="75.06" y1="232.30" x2="75.06" y2="235.70" stroke="#111" stroke-width="1"/>
<text x="75.06" y="245.90" font-size="8.4" text-anchor="middle" font-weight="normal" fill="#111" stroke="#111" stroke-width="0.1" >18</text>
<line x1="87.61" y1="232.30" x2="87.61" y2="235.70" stroke="#111" stroke-width="1"/>
<text x="87.61" y="245.90" font-size="8.4" text-anchor="middle" font-weight="normal" fill="#111" stroke="#111" stroke-width="0.1" >24</text>
<line x1="100.16" y1="232.30" x2="100.16" y2="235.70" stroke="#111" stroke-width="1"/>
<text x="100.16" y="245.90" font-size="8.4" text-anchor="middle" font-weight="normal" fill="#111" stroke="#111" stroke-width="0.1" >30</text>
<line x1="112.71" y1="232.30" x2="112.71" y2="235.70" stroke="#111" stroke-width="1"/>
<text x="112.71" y="245.90" font-size="8.4" text-anchor="middle" font-weight="normal" fill="#111" stroke="#111" stroke-width="0.1" >36</text>
<line x1="125.26" y1="232.30" x2="125.26" y2="235.70" stroke="#111" stroke-width="1"/>
<text x="125.26" y="245.90" font-size="8.4" text-anchor="middle" font-weight="normal" fill="#111" stroke="#111" stroke-width="0.1" >42</text>
<line x1="137.82" y1="232.30" x2="137.82" y2="235.70" stroke="#111" stroke-width="1"/>
<text x="137.82" y="245.90" font-size="8.4" text-anchor="middle" font-weight="normal" fill="#111" stroke="#111" stroke-width="0.1" >48</text>
<line x1="150.37" y1="232.30" x2="150.37" y2="235.70" stroke="#111" stroke-width="1"/>
<text x="150.37" y="245.90" font-size="8.4" text-anchor="middle" font-weight="normal" fill="#111" stroke="#111" stroke-width="0.1" >54</text>
<line x1="162.92" y1="232.30" x2="162.92" y2="235.70" stroke="#111" stroke-width="1"/>
<text x="162.92" y="245.90" font-size="8.4" text-anchor="middle" font-weight="normal" fill="#111" stroke="#111" stroke-width="0.1" >60</text>
<polyline points="37.40,217.92 43.68,212.53 49.95,194.55 62.50,185.56 87.61,176.58 112.71,171.19 137.82,180.17 162.92,176.58" fill="none" stroke="#a8062c" stroke-width="1.5" stroke-linejoin="round"/>
<rect x="35.60" y="216.12" width="3.6" height="3.6" fill="#a8062c"/>
<rect x="41.88" y="210.73" width="3.6" height="3.6" fill="#a8062c"/>
<rect x="48.15" y="192.75" width="3.6" height="3.6" fill="#a8062c"/>
<rect x="60.70" y="183.76" width="3.6" height="3.6" fill="#a8062c"/>
<rect x="85.81" y="174.78" width="3.6" height="3.6" fill="#a8062c"/>
<rect x="110.91" y="169.38" width="3.6" height="3.6" fill="#a8062c"/>
<rect x="136.02" y="178.37" width="3.6" height="3.6" fill="#a8062c"/>
<rect x="161.12" y="174.78" width="3.6" height="3.6" fill="#a8062c"/>
<text x="101.80" y="151.80" font-size="10.1" text-anchor="middle" font-weight="normal" fill="#111" stroke="#111" stroke-width="0.15" >Hemoglobin</text>
<text transform="translate(102.70,259.70) scale(0.64,1)" font-size="10.0" text-anchor="middle" font-weight="bold" fill="#111" >Months</text>
<text transform="translate(15.70,195.10) rotate(-90) scale(0.6532,1)" font-size="9.8" text-anchor="middle" font-weight="bold" fill="#111" letter-spacing="0.5">Hb (g/dL)</text>
<line x1="207.20" y1="184.27" x2="338.50" y2="184.27" stroke="#333" stroke-width="0.9" stroke-dasharray="1,1.25"/>
<line x1="207.20" y1="157.20" x2="207.20" y2="233.00" stroke="#111" stroke-width="1.2"/>
<line x1="206.60" y1="232.40" x2="336.50" y2="232.40" stroke="#111" stroke-width="1.2"/>
<line x1="204.40" y1="232.40" x2="207.20" y2="232.40" stroke="#111" stroke-width="1"/>
<text x="200.70" y="235.20" font-size="8.4" text-anchor="end" font-weight="normal" fill="#111" stroke="#111" stroke-width="0.1" >0.5</text>
<line x1="204.40" y1="208.33" x2="207.20" y2="208.33" stroke="#111" stroke-width="1"/>
<text x="200.70" y="211.13" font-size="8.4" text-anchor="end" font-weight="normal" fill="#111" stroke="#111" stroke-width="0.1" >1.0</text>
<line x1="204.40" y1="184.27" x2="207.20" y2="184.27" stroke="#111" stroke-width="1"/>
<text x="200.70" y="187.07" font-size="8.4" text-anchor="end" font-weight="normal" fill="#111" stroke="#111" stroke-width="0.1" >1.5</text>
<line x1="204.40" y1="160.20" x2="207.20" y2="160.20" stroke="#111" stroke-width="1"/>
<text x="200.70" y="163.00" font-size="8.4" text-anchor="end" font-weight="normal" fill="#111" stroke="#111" stroke-width="0.1" >2.0</text>
<line x1="207.20" y1="232.40" x2="207.20" y2="235.80" stroke="#111" stroke-width="1"/>
<text x="207.20" y="245.90" font-size="8.4" text-anchor="middle" font-weight="normal" fill="#111" stroke="#111" stroke-width="0.1" >0</text>
<line x1="219.75" y1="232.40" x2="219.75" y2="235.80" stroke="#111" stroke-width="1"/>
<text x="219.75" y="245.90" font-size="8.4" text-anchor="middle" font-weight="normal" fill="#111" stroke="#111" stroke-width="0.1" >6</text>
<line x1="232.30" y1="232.40" x2="232.30" y2="235.80" stroke="#111" stroke-width="1"/>
<text x="232.30" y="245.90" font-size="8.4" text-anchor="middle" font-weight="normal" fill="#111" stroke="#111" stroke-width="0.1" >12</text>
<line x1="244.86" y1="232.40" x2="244.86" y2="235.80" stroke="#111" stroke-width="1"/>
<text x="244.86" y="245.90" font-size="8.4" text-anchor="middle" font-weight="normal" fill="#111" stroke="#111" stroke-width="0.1" >18</text>
<line x1="257.41" y1="232.40" x2="257.41" y2="235.80" stroke="#111" stroke-width="1"/>
<text x="257.41" y="245.90" font-size="8.4" text-anchor="middle" font-weight="normal" fill="#111" stroke="#111" stroke-width="0.1" >24</text>
<line x1="269.96" y1="232.40" x2="269.96" y2="235.80" stroke="#111" stroke-width="1"/>
<text x="269.96" y="245.90" font-size="8.4" text-anchor="middle" font-weight="normal" fill="#111" stroke="#111" stroke-width="0.1" >30</text>
<line x1="282.51" y1="232.40" x2="282.51" y2="235.80" stroke="#111" stroke-width="1"/>
<text x="282.51" y="245.90" font-size="8.4" text-anchor="middle" font-weight="normal" fill="#111" stroke="#111" stroke-width="0.1" >36</text>
<line x1="295.06" y1="232.40" x2="295.06" y2="235.80" stroke="#111" stroke-width="1"/>
<text x="295.06" y="245.90" font-size="8.4" text-anchor="middle" font-weight="normal" fill="#111" stroke="#111" stroke-width="0.1" >42</text>
<line x1="307.62" y1="232.40" x2="307.62" y2="235.80" stroke="#111" stroke-width="1"/>
<text x="307.62" y="245.90" font-size="8.4" text-anchor="middle" font-weight="normal" fill="#111" stroke="#111" stroke-width="0.1" >48</text>
<line x1="320.17" y1="232.40" x2="320.17" y2="235.80" stroke="#111" stroke-width="1"/>
<text x="320.17" y="245.90" font-size="8.4" text-anchor="middle" font-weight="normal" fill="#111" stroke="#111" stroke-width="0.1" >54</text>
<line x1="332.72" y1="232.40" x2="332.72" y2="235.80" stroke="#111" stroke-width="1"/>
<text x="332.72" y="245.90" font-size="8.4" text-anchor="middle" font-weight="normal" fill="#111" stroke="#111" stroke-width="0.1" >60</text>
<polyline points="207.20,213.15 213.48,208.33 219.75,198.23 232.30,185.23 257.41,182.10 282.51,174.88 307.62,168.38 332.72,180.56" fill="none" stroke="#a8062c" stroke-width="1.5" stroke-linejoin="round"/>
<circle cx="207.20" cy="213.15" r="2.1" fill="#a8062c"/>
<circle cx="213.48" cy="208.33" r="2.1" fill="#a8062c"/>
<circle cx="219.75" cy="198.23" r="2.1" fill="#a8062c"/>
<circle cx="232.30" cy="185.23" r="2.1" fill="#a8062c"/>
<circle cx="257.41" cy="182.10" r="2.1" fill="#a8062c"/>
<circle cx="282.51" cy="174.88" r="2.1" fill="#a8062c"/>
<circle cx="307.62" cy="168.38" r="2.1" fill="#a8062c"/>
<circle cx="332.72" cy="180.56" r="2.1" fill="#a8062c"/>
<text x="271.80" y="151.80" font-size="9.8" text-anchor="middle" font-weight="normal" fill="#111" stroke="#111" stroke-width="0.15" >Absolute Neutrophil Count</text>
<text transform="translate(272.50,259.70) scale(0.64,1)" font-size="10.0" text-anchor="middle" font-weight="bold" fill="#111" >Months</text>
<text transform="translate(183.50,195.00) rotate(-90) scale(0.6624,1)" font-size="9.8" text-anchor="middle" font-weight="bold" fill="#111" letter-spacing="0.5">ANC (x10<tspan font-size="7" dy="-3.3">9</tspan><tspan dy="3.3">/L)</tspan></text>
<line x1="381.00" y1="196.25" x2="511.50" y2="196.25" stroke="#333" stroke-width="0.9" stroke-dasharray="1,1.25"/>
<line x1="381.00" y1="157.20" x2="381.00" y2="232.90" stroke="#111" stroke-width="1.2"/>
<line x1="380.40" y1="232.30" x2="509.00" y2="232.30" stroke="#111" stroke-width="1.2"/>
<line x1="378.20" y1="232.30" x2="381.00" y2="232.30" stroke="#111" stroke-width="1"/>
<text x="374.50" y="235.10" font-size="8.4" text-anchor="end" font-weight="normal" fill="#111" stroke="#111" stroke-width="0.1" >0</text>
<line x1="378.20" y1="214.28" x2="381.00" y2="214.28" stroke="#111" stroke-width="1"/>
<text x="374.50" y="217.08" font-size="8.4" text-anchor="end" font-weight="normal" fill="#111" stroke="#111" stroke-width="0.1" >50</text>
<line x1="378.20" y1="196.25" x2="381.00" y2="196.25" stroke="#111" stroke-width="1"/>
<text x="374.50" y="199.05" font-size="8.4" text-anchor="end" font-weight="normal" fill="#111" stroke="#111" stroke-width="0.1" >100</text>
<line x1="378.20" y1="178.22" x2="381.00" y2="178.22" stroke="#111" stroke-width="1"/>
<text x="374.50" y="181.03" font-size="8.4" text-anchor="end" font-weight="normal" fill="#111" stroke="#111" stroke-width="0.1" >150</text>
<line x1="378.20" y1="160.20" x2="381.00" y2="160.20" stroke="#111" stroke-width="1"/>
<text x="374.50" y="163.00" font-size="8.4" text-anchor="end" font-weight="normal" fill="#111" stroke="#111" stroke-width="0.1" >200</text>
<line x1="381.00" y1="232.30" x2="381.00" y2="235.70" stroke="#111" stroke-width="1"/>
<text x="381.00" y="245.90" font-size="8.4" text-anchor="middle" font-weight="normal" fill="#111" stroke="#111" stroke-width="0.1" >0</text>
<line x1="393.55" y1="232.30" x2="393.55" y2="235.70" stroke="#111" stroke-width="1"/>
<text x="393.55" y="245.90" font-size="8.4" text-anchor="middle" font-weight="normal" fill="#111" stroke="#111" stroke-width="0.1" >6</text>
<line x1="406.10" y1="232.30" x2="406.10" y2="235.70" stroke="#111" stroke-width="1"/>
<text x="406.10" y="245.90" font-size="8.4" text-anchor="middle" font-weight="normal" fill="#111" stroke="#111" stroke-width="0.1" >12</text>
<line x1="418.66" y1="232.30" x2="418.66" y2="235.70" stroke="#111" stroke-width="1"/>
<text x="418.66" y="245.90" font-size="8.4" text-anchor="middle" font-weight="normal" fill="#111" stroke="#111" stroke-width="0.1" >18</text>
<line x1="431.21" y1="232.30" x2="431.21" y2="235.70" stroke="#111" stroke-width="1"/>
<text x="431.21" y="245.90" font-size="8.4" text-anchor="middle" font-weight="normal" fill="#111" stroke="#111" stroke-width="0.1" >24</text>
<line x1="443.76" y1="232.30" x2="443.76" y2="235.70" stroke="#111" stroke-width="1"/>
<text x="443.76" y="245.90" font-size="8.4" text-anchor="middle" font-weight="normal" fill="#111" stroke="#111" stroke-width="0.1" >30</text>
<line x1="456.31" y1="232.30" x2="456.31" y2="235.70" stroke="#111" stroke-width="1"/>
<text x="456.31" y="245.90" font-size="8.4" text-anchor="middle" font-weight="normal" fill="#111" stroke="#111" stroke-width="0.1" >36</text>
<line x1="468.86" y1="232.30" x2="468.86" y2="235.70" stroke="#111" stroke-width="1"/>
<text x="468.86" y="245.90" font-size="8.4" text-anchor="middle" font-weight="normal" fill="#111" stroke="#111" stroke-width="0.1" >42</text>
<line x1="481.42" y1="232.30" x2="481.42" y2="235.70" stroke="#111" stroke-width="1"/>
<text x="481.42" y="245.90" font-size="8.4" text-anchor="middle" font-weight="normal" fill="#111" stroke="#111" stroke-width="0.1" >48</text>
<line x1="493.97" y1="232.30" x2="493.97" y2="235.70" stroke="#111" stroke-width="1"/>
<text x="493.97" y="245.90" font-size="8.4" text-anchor="middle" font-weight="normal" fill="#111" stroke="#111" stroke-width="0.1" >54</text>
<line x1="506.52" y1="232.30" x2="506.52" y2="235.70" stroke="#111" stroke-width="1"/>
<text x="506.52" y="245.90" font-size="8.4" text-anchor="middle" font-weight="normal" fill="#111" stroke="#111" stroke-width="0.1" >60</text>
<polyline points="381.00,221.49 387.28,217.88 393.55,205.80 406.10,202.02 431.21,190.66 456.31,182.62 481.42,177.90 506.52,172.82" fill="none" stroke="#a8062c" stroke-width="1.5" stroke-linejoin="round"/>
<circle cx="381.00" cy="221.49" r="2.1" fill="#a8062c"/>
<circle cx="387.28" cy="217.88" r="2.1" fill="#a8062c"/>
<circle cx="393.55" cy="205.80" r="2.1" fill="#a8062c"/>
<circle cx="406.10" cy="202.02" r="2.1" fill="#a8062c"/>
<circle cx="431.21" cy="190.66" r="2.1" fill="#a8062c"/>
<circle cx="456.31" cy="182.62" r="2.1" fill="#a8062c"/>
<circle cx="481.42" cy="177.90" r="2.1" fill="#a8062c"/>
<circle cx="506.52" cy="172.82" r="2.1" fill="#a8062c"/>
<text x="445.40" y="152.80" font-size="9.5" text-anchor="middle" font-weight="normal" fill="#111" stroke="#111" stroke-width="0.15" >Platelets</text>
<text transform="translate(446.30,259.70) scale(0.64,1)" font-size="10.0" text-anchor="middle" font-weight="bold" fill="#111" >Months</text>
<text transform="translate(353.60,194.80) rotate(-90) scale(0.644,1)" font-size="9.8" text-anchor="middle" font-weight="bold" fill="#111" letter-spacing="0.5">Plts (x10<tspan font-size="7" dy="-3.3">9</tspan><tspan dy="3.3">/L)</tspan></text>
<line x1="37.40" y1="322.73" x2="168.00" y2="322.73" stroke="#333" stroke-width="0.9" stroke-dasharray="1,1.25"/>
<rect x="42.40" y="315.60" width="9.10" height="24.57" fill="#2d4b7e" stroke="#1e3a70" stroke-width="0.6"/>
<rect x="42.10" y="340.17" width="9.7" height="64.23" fill="#a6002b"/>
<line x1="46.95" y1="404.40" x2="46.95" y2="407.40" stroke="#111" stroke-width="1"/>
<text x="46.95" y="418.70" font-size="8.4" text-anchor="middle" font-weight="normal" fill="#111" stroke="#111" stroke-width="0.1" >8</text>
<rect x="56.33" y="305.95" width="9.10" height="41.28" fill="#2d4b7e" stroke="#1e3a70" stroke-width="0.6"/>
<rect x="56.03" y="347.23" width="9.7" height="57.17" fill="#a6002b"/>
<line x1="60.88" y1="404.40" x2="60.88" y2="407.40" stroke="#111" stroke-width="1"/>
<text x="60.88" y="418.70" font-size="8.4" text-anchor="middle" font-weight="normal" fill="#111" stroke="#111" stroke-width="0.1" >11</text>
<rect x="70.25" y="326.00" width="9.10" height="5.64" fill="#2d4b7e" stroke="#1e3a70" stroke-width="0.6"/>
<rect x="69.95" y="331.63" width="9.7" height="72.76" fill="#a6002b"/>
<line x1="74.80" y1="404.40" x2="74.80" y2="407.40" stroke="#111" stroke-width="1"/>
<text x="74.80" y="418.70" font-size="8.4" text-anchor="middle" font-weight="normal" fill="#111" stroke="#111" stroke-width="0.1" >25</text>
<rect x="84.17" y="291.84" width="9.10" height="36.08" fill="#2d4b7e" stroke="#1e3a70" stroke-width="0.6"/>
<rect x="83.88" y="327.92" width="9.7" height="76.48" fill="#a6002b"/>
<line x1="88.72" y1="404.40" x2="88.72" y2="407.40" stroke="#111" stroke-width="1"/>
<text x="88.72" y="418.70" font-size="8.4" text-anchor="middle" font-weight="normal" fill="#111" stroke="#111" stroke-width="0.1" >37</text>
<rect x="98.10" y="294.07" width="9.10" height="29.77" fill="#2d4b7e" stroke="#1e3a70" stroke-width="0.6"/>
<rect x="97.80" y="323.84" width="9.7" height="80.56" fill="#a6002b"/>
<line x1="102.65" y1="404.40" x2="102.65" y2="407.40" stroke="#111" stroke-width="1"/>
<text x="102.65" y="418.70" font-size="8.4" text-anchor="middle" font-weight="normal" fill="#111" stroke="#111" stroke-width="0.1" >32</text>
<rect x="112.02" y="310.03" width="9.10" height="34.60" fill="#2d4b7e" stroke="#1e3a70" stroke-width="0.6"/>
<rect x="111.72" y="344.63" width="9.7" height="59.77" fill="#a6002b"/>
<line x1="116.57" y1="404.40" x2="116.57" y2="407.40" stroke="#111" stroke-width="1"/>
<text x="116.57" y="418.70" font-size="8.4" text-anchor="middle" font-weight="normal" fill="#111" stroke="#111" stroke-width="0.1" >36</text>
<rect x="125.65" y="322.73" width="9.7" height="1.11" fill="#69a63d"/>
<rect x="125.65" y="323.84" width="9.7" height="80.56" fill="#a6002b"/>
<line x1="130.50" y1="404.40" x2="130.50" y2="407.40" stroke="#111" stroke-width="1"/>
<text x="130.50" y="418.70" font-size="8.4" text-anchor="middle" font-weight="normal" fill="#111" stroke="#111" stroke-width="0.1" >17</text>
<rect x="139.58" y="313.81" width="9.7" height="14.48" fill="#69a63d"/>
<rect x="139.58" y="328.29" width="9.7" height="76.11" fill="#a6002b"/>
<line x1="144.43" y1="404.40" x2="144.43" y2="407.40" stroke="#111" stroke-width="1"/>
<text x="144.43" y="418.70" font-size="8.4" text-anchor="middle" font-weight="normal" fill="#111" stroke="#111" stroke-width="0.1" >23</text>
<rect x="153.80" y="314.86" width="9.10" height="18.63" fill="#2d4b7e" stroke="#1e3a70" stroke-width="0.6"/>
<rect x="153.50" y="333.49" width="9.7" height="70.91" fill="#a6002b"/>
<line x1="158.35" y1="404.40" x2="158.35" y2="407.40" stroke="#111" stroke-width="1"/>
<text x="158.35" y="418.70" font-size="8.4" text-anchor="middle" font-weight="normal" fill="#111" stroke="#111" stroke-width="0.1" >39</text>
<line x1="37.40" y1="282.80" x2="37.40" y2="405.00" stroke="#111" stroke-width="1.2"/>
<line x1="36.80" y1="404.40" x2="167.00" y2="404.40" stroke="#111" stroke-width="1.2"/>
<line x1="34.60" y1="404.40" x2="37.40" y2="404.40" stroke="#111" stroke-width="1"/>
<text x="30.90" y="407.20" font-size="8.4" text-anchor="end" font-weight="normal" fill="#111" stroke="#111" stroke-width="0.1" >0</text>
<line x1="34.60" y1="389.55" x2="37.40" y2="389.55" stroke="#111" stroke-width="1"/>
<text x="30.90" y="392.35" font-size="8.4" text-anchor="end" font-weight="normal" fill="#111" stroke="#111" stroke-width="0.1" >2</text>
<line x1="34.60" y1="374.70" x2="37.40" y2="374.70" stroke="#111" stroke-width="1"/>
<text x="30.90" y="377.50" font-size="8.4" text-anchor="end" font-weight="normal" fill="#111" stroke="#111" stroke-width="0.1" >4</text>
<line x1="34.60" y1="359.85" x2="37.40" y2="359.85" stroke="#111" stroke-width="1"/>
<text x="30.90" y="362.65" font-size="8.4" text-anchor="end" font-weight="normal" fill="#111" stroke="#111" stroke-width="0.1" >6</text>
<line x1="34.60" y1="345.00" x2="37.40" y2="345.00" stroke="#111" stroke-width="1"/>
<text x="30.90" y="347.80" font-size="8.4" text-anchor="end" font-weight="normal" fill="#111" stroke="#111" stroke-width="0.1" >8</text>
<line x1="34.60" y1="330.15" x2="37.40" y2="330.15" stroke="#111" stroke-width="1"/>
<text x="30.90" y="332.95" font-size="8.4" text-anchor="end" font-weight="normal" fill="#111" stroke="#111" stroke-width="0.1" >10</text>
<line x1="34.60" y1="315.30" x2="37.40" y2="315.30" stroke="#111" stroke-width="1"/>
<text x="30.90" y="318.10" font-size="8.4" text-anchor="end" font-weight="normal" fill="#111" stroke="#111" stroke-width="0.1" >12</text>
<line x1="34.60" y1="300.45" x2="37.40" y2="300.45" stroke="#111" stroke-width="1"/>
<text x="30.90" y="303.25" font-size="8.4" text-anchor="end" font-weight="normal" fill="#111" stroke="#111" stroke-width="0.1" >14</text>
<line x1="34.60" y1="285.60" x2="37.40" y2="285.60" stroke="#111" stroke-width="1"/>
<text x="30.90" y="288.40" font-size="8.4" text-anchor="end" font-weight="normal" fill="#111" stroke="#111" stroke-width="0.1" >16</text>
<text transform="translate(102.60,432.40) scale(0.69,1)" font-size="10.0" text-anchor="middle" font-weight="bold" fill="#111" >UPI</text>
<text transform="translate(15.70,345.50) rotate(-90) scale(0.6532,1)" font-size="9.8" text-anchor="middle" font-weight="bold" fill="#111" letter-spacing="0.5">Hb (g/dL)</text>
<line x1="202.50" y1="358.76" x2="336.50" y2="358.76" stroke="#333" stroke-width="0.9" stroke-dasharray="1,1.25"/>
<rect x="207.40" y="288.17" width="9.10" height="56.29" fill="#2d4b7e" stroke="#1e3a70" stroke-width="0.6"/>
<rect x="207.10" y="344.46" width="9.7" height="59.94" fill="#a6002b"/>
<line x1="211.95" y1="404.40" x2="211.95" y2="407.40" stroke="#111" stroke-width="1"/>
<text x="211.95" y="418.70" font-size="8.4" text-anchor="middle" font-weight="normal" fill="#111" stroke="#111" stroke-width="0.1" >8</text>
<rect x="221.72" y="359.06" width="9.10" height="24.95" fill="#2d4b7e" stroke="#1e3a70" stroke-width="0.6"/>
<rect x="221.42" y="384.02" width="9.7" height="20.38" fill="#a6002b"/>
<line x1="226.27" y1="404.40" x2="226.27" y2="407.40" stroke="#111" stroke-width="1"/>
<text x="226.27" y="418.70" font-size="8.4" text-anchor="middle" font-weight="normal" fill="#111" stroke="#111" stroke-width="0.1" >11</text>
<rect x="236.05" y="344.15" width="9.10" height="34.84" fill="#2d4b7e" stroke="#1e3a70" stroke-width="0.6"/>
<rect x="235.75" y="379.00" width="9.7" height="25.40" fill="#a6002b"/>
<line x1="240.60" y1="404.40" x2="240.60" y2="407.40" stroke="#111" stroke-width="1"/>
<text x="240.60" y="418.70" font-size="8.4" text-anchor="middle" font-weight="normal" fill="#111" stroke="#111" stroke-width="0.1" >25</text>
<rect x="250.38" y="362.41" width="9.10" height="15.98" fill="#2d4b7e" stroke="#1e3a70" stroke-width="0.6"/>
<rect x="250.07" y="378.39" width="9.7" height="26.01" fill="#a6002b"/>
<line x1="254.92" y1="404.40" x2="254.92" y2="407.40" stroke="#111" stroke-width="1"/>
<text x="254.92" y="418.70" font-size="8.4" text-anchor="middle" font-weight="normal" fill="#111" stroke="#111" stroke-width="0.1" >37</text>
<rect x="264.70" y="315.55" width="9.10" height="41.08" fill="#2d4b7e" stroke="#1e3a70" stroke-width="0.6"/>
<rect x="264.40" y="356.63" width="9.7" height="47.77" fill="#a6002b"/>
<line x1="269.25" y1="404.40" x2="269.25" y2="407.40" stroke="#111" stroke-width="1"/>
<text x="269.25" y="418.70" font-size="8.4" text-anchor="middle" font-weight="normal" fill="#111" stroke="#111" stroke-width="0.1" >32</text>
<rect x="279.03" y="294.56" width="9.10" height="83.06" fill="#2d4b7e" stroke="#1e3a70" stroke-width="0.6"/>
<rect x="278.73" y="377.63" width="9.7" height="26.77" fill="#a6002b"/>
<line x1="283.58" y1="404.40" x2="283.58" y2="407.40" stroke="#111" stroke-width="1"/>
<text x="283.58" y="418.70" font-size="8.4" text-anchor="middle" font-weight="normal" fill="#111" stroke="#111" stroke-width="0.1" >36</text>
<rect x="293.35" y="365.45" width="9.10" height="3.35" fill="#2d4b7e" stroke="#1e3a70" stroke-width="0.6"/>
<rect x="293.05" y="368.80" width="9.7" height="35.60" fill="#a6002b"/>
<line x1="297.90" y1="404.40" x2="297.90" y2="407.40" stroke="#111" stroke-width="1"/>
<text x="297.90" y="418.70" font-size="8.4" text-anchor="middle" font-weight="normal" fill="#111" stroke="#111" stroke-width="0.1" >17</text>
<rect x="307.38" y="393.14" width="9.7" height="5.17" fill="#69a63d"/>
<rect x="307.38" y="398.31" width="9.7" height="6.08" fill="#a6002b"/>
<line x1="312.23" y1="404.40" x2="312.23" y2="407.40" stroke="#111" stroke-width="1"/>
<text x="312.23" y="418.70" font-size="8.4" text-anchor="middle" font-weight="normal" fill="#111" stroke="#111" stroke-width="0.1" >23</text>
<rect x="322.00" y="357.24" width="9.10" height="18.56" fill="#2d4b7e" stroke="#1e3a70" stroke-width="0.6"/>
<rect x="321.70" y="375.80" width="9.7" height="28.60" fill="#a6002b"/>
<line x1="326.55" y1="404.40" x2="326.55" y2="407.40" stroke="#111" stroke-width="1"/>
<text x="326.55" y="418.70" font-size="8.4" text-anchor="middle" font-weight="normal" fill="#111" stroke="#111" stroke-width="0.1" >39</text>
<line x1="202.50" y1="279.90" x2="202.50" y2="405.00" stroke="#111" stroke-width="1.2"/>
<line x1="201.90" y1="404.40" x2="336.00" y2="404.40" stroke="#111" stroke-width="1.2"/>
<line x1="199.70" y1="404.40" x2="202.50" y2="404.40" stroke="#111" stroke-width="1"/>
<text x="196.00" y="407.20" font-size="8.4" text-anchor="end" font-weight="normal" fill="#111" stroke="#111" stroke-width="0.1" >0</text>
<line x1="199.70" y1="373.97" x2="202.50" y2="373.97" stroke="#111" stroke-width="1"/>
<text x="196.00" y="376.77" font-size="8.4" text-anchor="end" font-weight="normal" fill="#111" stroke="#111" stroke-width="0.1" >1</text>
<line x1="199.70" y1="343.55" x2="202.50" y2="343.55" stroke="#111" stroke-width="1"/>
<text x="196.00" y="346.35" font-size="8.4" text-anchor="end" font-weight="normal" fill="#111" stroke="#111" stroke-width="0.1" >2</text>
<line x1="199.70" y1="313.12" x2="202.50" y2="313.12" stroke="#111" stroke-width="1"/>
<text x="196.00" y="315.93" font-size="8.4" text-anchor="end" font-weight="normal" fill="#111" stroke="#111" stroke-width="0.1" >3</text>
<line x1="199.70" y1="282.70" x2="202.50" y2="282.70" stroke="#111" stroke-width="1"/>
<text x="196.00" y="285.50" font-size="8.4" text-anchor="end" font-weight="normal" fill="#111" stroke="#111" stroke-width="0.1" >4</text>
<text transform="translate(267.50,432.40) scale(0.69,1)" font-size="10.0" text-anchor="middle" font-weight="bold" fill="#111" >UPI</text>
<text transform="translate(184.80,345.60) rotate(-90) scale(0.6808000000000001,1)" font-size="9.8" text-anchor="middle" font-weight="bold" fill="#111" letter-spacing="0.5">ANC (x10<tspan font-size="7" dy="-3.3">9</tspan><tspan dy="3.3">/L)</tspan></text>
<line x1="380.60" y1="358.17" x2="513.00" y2="358.17" stroke="#333" stroke-width="0.9" stroke-dasharray="1,1.25"/>
<rect x="385.60" y="328.88" width="9.10" height="60.49" fill="#2d4b7e" stroke="#1e3a70" stroke-width="0.6"/>
<rect x="385.30" y="389.38" width="9.7" height="15.02" fill="#a6002b"/>
<line x1="390.15" y1="404.40" x2="390.15" y2="407.40" stroke="#111" stroke-width="1"/>
<text x="390.15" y="418.70" font-size="8.4" text-anchor="middle" font-weight="normal" fill="#111" stroke="#111" stroke-width="0.1" >8</text>
<rect x="399.75" y="311.78" width="9.10" height="78.75" fill="#2d4b7e" stroke="#1e3a70" stroke-width="0.6"/>
<rect x="399.45" y="390.53" width="9.7" height="13.87" fill="#a6002b"/>
<line x1="404.30" y1="404.40" x2="404.30" y2="407.40" stroke="#111" stroke-width="1"/>
<text x="404.30" y="418.70" font-size="8.4" text-anchor="middle" font-weight="normal" fill="#111" stroke="#111" stroke-width="0.1" >11</text>
<rect x="413.90" y="284.73" width="9.10" height="57.95" fill="#2d4b7e" stroke="#1e3a70" stroke-width="0.6"/>
<rect x="413.60" y="342.68" width="9.7" height="61.72" fill="#a6002b"/>
<line x1="418.45" y1="404.40" x2="418.45" y2="407.40" stroke="#111" stroke-width="1"/>
<text x="418.45" y="418.70" font-size="8.4" text-anchor="middle" font-weight="normal" fill="#111" stroke="#111" stroke-width="0.1" >25</text>
<rect x="428.05" y="330.96" width="9.10" height="61.88" fill="#2d4b7e" stroke="#1e3a70" stroke-width="0.6"/>
<rect x="427.75" y="392.84" width="9.7" height="11.56" fill="#a6002b"/>
<line x1="432.60" y1="404.40" x2="432.60" y2="407.40" stroke="#111" stroke-width="1"/>
<text x="432.60" y="418.70" font-size="8.4" text-anchor="middle" font-weight="normal" fill="#111" stroke="#111" stroke-width="0.1" >37</text>
<rect x="442.20" y="329.34" width="9.10" height="66.73" fill="#2d4b7e" stroke="#1e3a70" stroke-width="0.6"/>
<rect x="441.90" y="396.08" width="9.7" height="8.32" fill="#a6002b"/>
<line x1="446.75" y1="404.40" x2="446.75" y2="407.40" stroke="#111" stroke-width="1"/>
<text x="446.75" y="418.70" font-size="8.4" text-anchor="middle" font-weight="normal" fill="#111" stroke="#111" stroke-width="0.1" >32</text>
<rect x="456.35" y="287.27" width="9.10" height="111.12" fill="#2d4b7e" stroke="#1e3a70" stroke-width="0.6"/>
<rect x="456.05" y="398.39" width="9.7" height="6.01" fill="#a6002b"/>
<line x1="460.90" y1="404.40" x2="460.90" y2="407.40" stroke="#111" stroke-width="1"/>
<text x="460.90" y="418.70" font-size="8.4" text-anchor="middle" font-weight="normal" fill="#111" stroke="#111" stroke-width="0.1" >36</text>
<rect x="470.50" y="320.10" width="9.10" height="71.36" fill="#2d4b7e" stroke="#1e3a70" stroke-width="0.6"/>
<rect x="470.20" y="391.46" width="9.7" height="12.94" fill="#a6002b"/>
<line x1="475.05" y1="404.40" x2="475.05" y2="407.40" stroke="#111" stroke-width="1"/>
<text x="475.05" y="418.70" font-size="8.4" text-anchor="middle" font-weight="normal" fill="#111" stroke="#111" stroke-width="0.1" >17</text>
<rect x="484.65" y="358.70" width="9.10" height="4.32" fill="#2d4b7e" stroke="#1e3a70" stroke-width="0.6"/>
<rect x="484.35" y="363.02" width="9.7" height="41.38" fill="#a6002b"/>
<line x1="489.20" y1="404.40" x2="489.20" y2="407.40" stroke="#111" stroke-width="1"/>
<text x="489.20" y="418.70" font-size="8.4" text-anchor="middle" font-weight="normal" fill="#111" stroke="#111" stroke-width="0.1" >23</text>
<rect x="498.80" y="360.64" width="9.10" height="39.37" fill="#2d4b7e" stroke="#1e3a70" stroke-width="0.6"/>
<rect x="498.50" y="400.01" width="9.7" height="4.39" fill="#a6002b"/>
<line x1="503.35" y1="404.40" x2="503.35" y2="407.40" stroke="#111" stroke-width="1"/>
<text x="503.35" y="418.70" font-size="8.4" text-anchor="middle" font-weight="normal" fill="#111" stroke="#111" stroke-width="0.1" >39</text>
<line x1="380.60" y1="281.40" x2="380.60" y2="405.00" stroke="#111" stroke-width="1.2"/>
<line x1="380.00" y1="404.40" x2="512.50" y2="404.40" stroke="#111" stroke-width="1.2"/>
<line x1="377.80" y1="404.40" x2="380.60" y2="404.40" stroke="#111" stroke-width="1"/>
<text x="374.10" y="407.20" font-size="8.4" text-anchor="end" font-weight="normal" fill="#111" stroke="#111" stroke-width="0.1" >0</text>
<line x1="377.80" y1="395.15" x2="380.60" y2="395.15" stroke="#111" stroke-width="1"/>
<text x="374.10" y="397.95" font-size="8.4" text-anchor="end" font-weight="normal" fill="#111" stroke="#111" stroke-width="0.1" >20</text>
<line x1="377.80" y1="385.91" x2="380.60" y2="385.91" stroke="#111" stroke-width="1"/>
<text x="374.10" y="388.71" font-size="8.4" text-anchor="end" font-weight="normal" fill="#111" stroke="#111" stroke-width="0.1" >40</text>
<line x1="377.80" y1="376.66" x2="380.60" y2="376.66" stroke="#111" stroke-width="1"/>
<text x="374.10" y="379.46" font-size="8.4" text-anchor="end" font-weight="normal" fill="#111" stroke="#111" stroke-width="0.1" >60</text>
<line x1="377.80" y1="367.42" x2="380.60" y2="367.42" stroke="#111" stroke-width="1"/>
<text x="374.10" y="370.22" font-size="8.4" text-anchor="end" font-weight="normal" fill="#111" stroke="#111" stroke-width="0.1" >80</text>
<line x1="377.80" y1="358.17" x2="380.60" y2="358.17" stroke="#111" stroke-width="1"/>
<text x="374.10" y="360.97" font-size="8.4" text-anchor="end" font-weight="normal" fill="#111" stroke="#111" stroke-width="0.1" >100</text>
<line x1="377.80" y1="348.92" x2="380.60" y2="348.92" stroke="#111" stroke-width="1"/>
<text x="374.10" y="351.72" font-size="8.4" text-anchor="end" font-weight="normal" fill="#111" stroke="#111" stroke-width="0.1" >120</text>
<line x1="377.80" y1="339.68" x2="380.60" y2="339.68" stroke="#111" stroke-width="1"/>
<text x="374.10" y="342.48" font-size="8.4" text-anchor="end" font-weight="normal" fill="#111" stroke="#111" stroke-width="0.1" >140</text>
<line x1="377.80" y1="330.43" x2="380.60" y2="330.43" stroke="#111" stroke-width="1"/>
<text x="374.10" y="333.23" font-size="8.4" text-anchor="end" font-weight="normal" fill="#111" stroke="#111" stroke-width="0.1" >160</text>
<line x1="377.80" y1="321.18" x2="380.60" y2="321.18" stroke="#111" stroke-width="1"/>
<text x="374.10" y="323.98" font-size="8.4" text-anchor="end" font-weight="normal" fill="#111" stroke="#111" stroke-width="0.1" >180</text>
<line x1="377.80" y1="311.94" x2="380.60" y2="311.94" stroke="#111" stroke-width="1"/>
<text x="374.10" y="314.74" font-size="8.4" text-anchor="end" font-weight="normal" fill="#111" stroke="#111" stroke-width="0.1" >200</text>
<line x1="377.80" y1="302.69" x2="380.60" y2="302.69" stroke="#111" stroke-width="1"/>
<text x="374.10" y="305.49" font-size="8.4" text-anchor="end" font-weight="normal" fill="#111" stroke="#111" stroke-width="0.1" >220</text>
<line x1="377.80" y1="293.45" x2="380.60" y2="293.45" stroke="#111" stroke-width="1"/>
<text x="374.10" y="296.25" font-size="8.4" text-anchor="end" font-weight="normal" fill="#111" stroke="#111" stroke-width="0.1" >240</text>
<line x1="377.80" y1="284.20" x2="380.60" y2="284.20" stroke="#111" stroke-width="1"/>
<text x="374.10" y="287.00" font-size="8.4" text-anchor="end" font-weight="normal" fill="#111" stroke="#111" stroke-width="0.1" >260</text>
<text transform="translate(446.60,432.40) scale(0.69,1)" font-size="10.0" text-anchor="middle" font-weight="bold" fill="#111" >UPI</text>
<text transform="translate(353.60,342.90) rotate(-90) scale(0.644,1)" font-size="9.8" text-anchor="middle" font-weight="bold" fill="#111" letter-spacing="0.5">Plts (x10<tspan font-size="7" dy="-3.3">9</tspan><tspan dy="3.3">/L)</tspan></text>
</svg>
</body></html>
